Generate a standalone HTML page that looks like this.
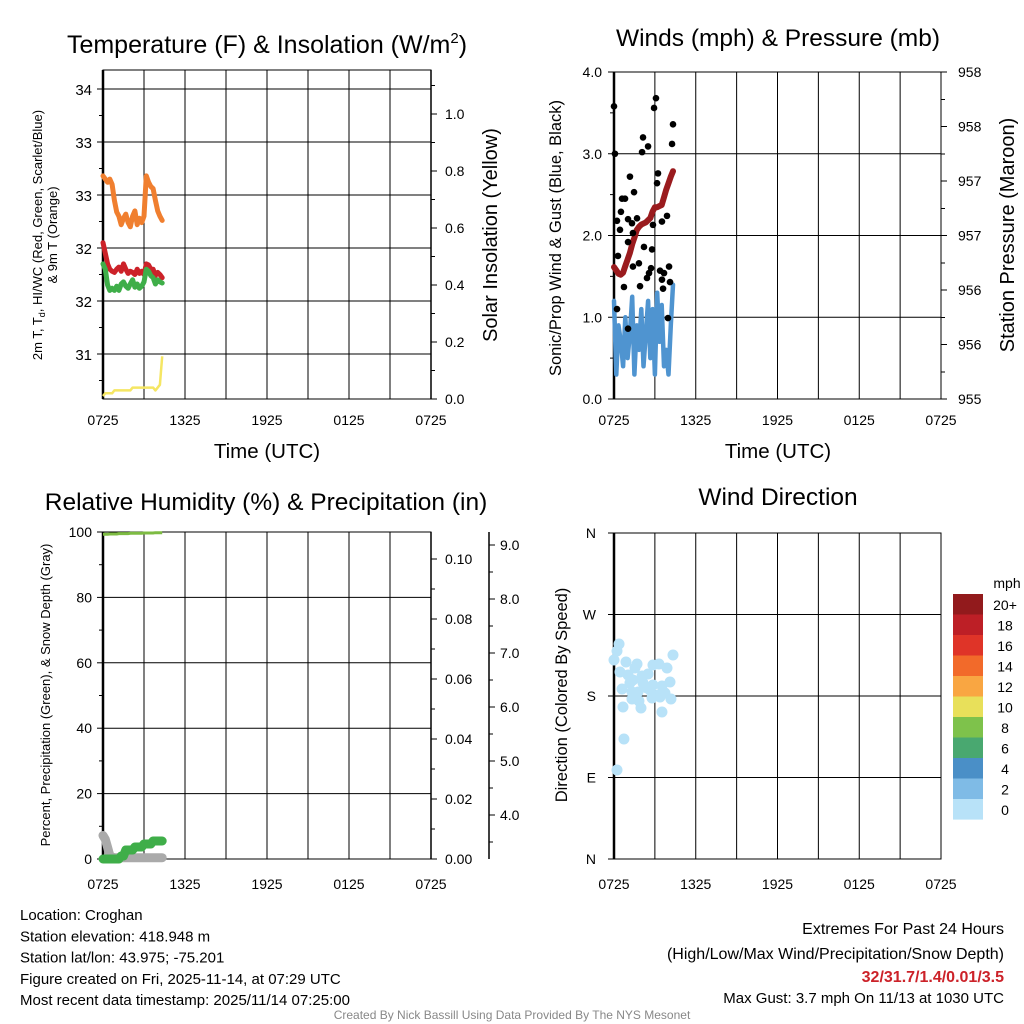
<!DOCTYPE html>
<html><head><meta charset="utf-8"><style>
html,body{margin:0;padding:0;background:#fff;}
svg{display:block;font-family:"Liberation Sans",Arial,sans-serif;}
</style></head><body>
<svg id="c" width="1024" height="1024" viewBox="0 0 1024 1024" xmlns="http://www.w3.org/2000/svg"></svg>
<script>
// ---------- DATA ----------
const timeLabels = ["0725","1325","1925","0125","0725"];
const times = [0,0.167,0.333,0.5,0.667,0.833,1,1.167,1.333,1.5,1.667,1.833,2,2.167,2.333,2.5,2.667,2.833,3,3.167,3.333,3.5,3.667,3.833,4,4.167,4.333];
const orangeT = [33.18,33.15,33.12,33.15,33.1,32.95,32.84,32.80,32.72,32.78,32.82,32.74,32.70,32.80,32.85,32.72,32.78,32.74,32.80,33.18,33.12,33.08,33.06,32.95,32.85,32.80,32.76];
const redT = [32.55,32.45,32.35,32.30,32.28,32.27,32.30,32.32,32.28,32.35,32.30,32.26,32.28,32.27,32.25,32.30,32.26,32.28,32.25,32.35,32.34,32.30,32.30,32.24,32.27,32.25,32.22];
const greenT = [32.35,32.30,32.15,32.10,32.12,32.10,32.14,32.10,32.16,32.18,32.14,32.12,32.16,32.20,32.13,32.16,32.12,32.14,32.18,32.30,32.28,32.24,32.22,32.16,32.20,32.18,32.17];
const insolation = [0.01,0.02,0.02,0.02,0.02,0.03,0.03,0.03,0.03,0.03,0.03,0.03,0.03,0.04,0.04,0.04,0.04,0.04,0.04,0.04,0.04,0.04,0.04,0.03,0.04,0.05,0.15];
const tempTicks = ["34","33","33","32","32","31"];
const insolTicks = ["0.0","0.2","0.4","0.6","0.8","1.0"];
const pressure = [956.21,956.18,956.15,956.14,956.16,956.22,956.28,956.34,956.42,956.48,956.55,956.58,956.60,956.61,956.62,956.64,956.66,956.72,956.76,956.76,956.77,956.78,956.85,956.92,956.98,957.04,957.09];
const windSpeed = [1.2,0.3,0.9,0.7,0.4,1.0,0.5,0.8,1.25,0.3,0.9,0.6,1.1,0.4,0.8,1.2,0.5,1.1,0.3,1.3,0.7,1.15,0.4,0.6,0.3,0.9,1.4];
const gustTimes = [0,0.07,3.08,2.94,4.33,4.26,2.13,2.06,2.5,1.17,1.47,3.23,3.16,0.59,0.81,0.22,0.51,0.44,1.03,1.32,1.69,3.89,3.52,2.86,1.39,1.03,2.2,2.79,0.29,1.83,1.39,2.72,2.57,2.42,3.38,3.67,4.04,3.52,4.11,3.6,1.91,0.73,0.22,1.03,3.96];
const gustVals = [3.58,3.0,3.68,3.56,3.36,3.12,3.2,3.02,3.09,2.72,2.53,2.76,2.64,2.45,2.45,2.18,2.29,2.07,2.2,2.15,2.21,2.24,2.17,2.13,2.03,1.92,1.86,1.83,1.75,1.66,1.62,1.6,1.54,1.48,1.57,1.54,1.62,1.46,1.43,1.35,1.38,1.37,1.1,0.86,0.99];
const windTicks = ["0.0","1.0","2.0","3.0","4.0"];
const pressTicks = ["955","956","956","957","957","958","958"];
const rh = [99.3,99.3,99.3,99.4,99.4,99.4,99.4,99.5,99.5,99.5,99.5,99.5,99.6,99.6,99.6,99.6,99.6,99.6,99.7,99.7,99.7,99.7,99.7,99.8,99.8,99.8,99.8];
const precip = [0,0,0,0,0,0,0,0,0.001,0.001,0.003,0.003,0.003,0.003,0.004,0.004,0.004,0.004,0.005,0.005,0.005,0.005,0.006,0.006,0.006,0.006,0.006];
const snow = [3.62,3.55,3.40,3.25,3.22,3.21,3.21,3.21,3.21,3.21,3.21,3.21,3.21,3.21,3.21,3.21,3.21,3.21,3.21,3.21,3.21,3.21,3.21,3.21,3.21,3.21,3.21];
const rhTicks = ["0","20","40","60","80","100"];
const precipTicks = ["0.00","0.02","0.04","0.06","0.08","0.10"];
const snowTicks = ["4.0","5.0","6.0","7.0","8.0","9.0"];
const dirTimes = [0.37,0.22,0,0.88,4.33,1.69,1.54,2.86,3.3,3.89,0.44,1.03,2.06,2.5,1.39,1.17,2.13,4.11,2.86,3.52,0.59,1.32,1.76,2.42,2.64,3.74,3.23,1.32,1.83,2.79,4.18,3.38,0.66,1.98,3.52,0.73,0.22];
const dirDeg = [237.4,229.7,219.8,217.5,225.3,215.3,210.9,214.2,215.3,210.9,206.5,203.2,202.1,204.3,197.7,194.4,194.4,195.5,192.1,191.0,187.7,184.4,184.4,188.8,186.6,183.3,181.1,176.7,174.5,177.8,176.7,178.9,167.8,166.7,162.3,132.5,98.3];
const dirSpeed = [1,1,1,1,1,1,1,1,1,1,1,1,1,1,1,1,1,1,1,1,1,1,1,1,1,1,1,1,1,1,1,1,1,1,1,1,1];
const dirTicks = ["N","E","S","W","N"];
const speedLabels = ["20+","18","16","14","12","10","8","6","4","2","0"];
const speedColors = ["#921a1c","#bd1f26","#df3428","#f26a2a","#f9a642","#e8e05a","#7ec24b","#49a870","#4a8fc7","#7fbbe6","#b8e2f8"];

// ---------- HELPERS ----------
const svg = document.getElementById('c');
const NS = "http://www.w3.org/2000/svg";
function el(tag, attrs, parent){const e=document.createElementNS(NS,tag);for(const k in attrs)e.setAttribute(k,attrs[k]);(parent||svg).appendChild(e);return e;}
function txt(s,x,y,size,anchor,parent,extra){const t=el('text',Object.assign({x:x,y:y,'font-size':size,'text-anchor':anchor||'middle',fill:'#000'},extra||{}),parent);t.textContent=s;return t;}
function poly(xs,ys,fx,fy){return xs.map((v,i)=>fx(v).toFixed(1)+','+fy(ys[i]).toFixed(1)).join(' ');}

function frame(g,L,R,T,B){
  const step=(R-L)/8;
  for(let i=1;i<8;i++){el('line',{x1:L+i*step,y1:T,x2:L+i*step,y2:B,stroke:'#000','stroke-width':1},g);}
  el('rect',{x:L,y:T,width:R-L,height:B-T,fill:'none',stroke:'#000','stroke-width':1},g);
  el('line',{x1:L,y1:T,x2:L,y2:B,stroke:'#000','stroke-width':2.5},g);
}
function timeAxis(g,L,R,y){
  timeLabels.forEach((s,i)=>{const t=txt(s,L+i*(R-L)/4,y,14,'middle',g);
    
    });
}

// ---------- PANEL 1: Temperature ----------
{
const g=el('g',{});


const L=103,R=431,T=70,B=399;
const fx=t=>L+t*(R-L)/24;
const fy=v=>89+(34-v)*106;
const fi=v=>399-v*285;
frame(g,L,R,T,B);
for(let i=0;i<6;i++){const y=89+i*53;el('line',{x1:L,y1:y,x2:R,y2:y,stroke:'#000','stroke-width':1},g);
  el('line',{x1:L-6,y1:y,x2:L,y2:y,stroke:'#000'},g);el('line',{x1:L-4,y1:y+26.5,x2:L,y2:y+26.5,stroke:'#000'},g);
  const t=txt(tempTicks[i],L-11,y+6,15,'end',g);}
el('line',{x1:R,y1:T,x2:R,y2:B,stroke:'#000','stroke-width':1.5},g);
for(let i=0;i<6;i++){const y=fi(i*0.2);el('line',{x1:R,y1:y,x2:R+6,y2:y,stroke:'#000'},g);el('line',{x1:R,y1:y-28.5,x2:R+4,y2:y-28.5,stroke:'#000'},g);
  const t=txt(insolTicks[i],R+14,y+5,14,'start',g);}
let p=el('polyline',{points:poly(times,insolation,fx,fi),fill:'none',stroke:'#f5e663','stroke-width':2.5,'stroke-linejoin':'round'},g);

p=el('polyline',{points:poly(times,orangeT,fx,fy),fill:'none',stroke:'#f07f2f','stroke-width':5,'stroke-linejoin':'round','stroke-linecap':'round'},g);

p=el('polyline',{points:poly(times,redT,fx,fy),fill:'none',stroke:'#cc2229','stroke-width':5,'stroke-linejoin':'round','stroke-linecap':'round'},g);

p=el('polyline',{points:poly(times,greenT,fx,fy),fill:'none',stroke:'#3fae49','stroke-width':5,'stroke-linejoin':'round','stroke-linecap':'round'},g);

timeAxis(g,L,R,425);
let t=el('text',{x:267,y:53,'font-size':25,'text-anchor':'middle'},g);t.innerHTML='Temperature (F) &amp; Insolation (W/m<tspan dy="-10" font-size="15">2</tspan><tspan dy="10">)</tspan>';

t=txt('Time (UTC)',267,458,20.5,'middle',g);
t=el('text',{transform:'translate(42,235) rotate(-90)','font-size':13,'text-anchor':'middle'},g);t.innerHTML='2m T, T<tspan dy="3" font-size="9">d</tspan><tspan dy="-3">, HI/WC (Red, Green, Scarlet/Blue)</tspan>';

t=txt('& 9m T (Orange)',0,0,13,'middle',g,{transform:'translate(57,235) rotate(-90)'});
t=txt('Solar Insolation (Yellow)',0,0,20,'middle',g,{transform:'translate(497,235) rotate(-90)'});
}

// ---------- PANEL 2: Winds ----------
{
const g=el('g',{});


const L=614,R=941,T=72,B=399;
const fx=t=>L+t*(R-L)/24;
const fy=v=>399-v*81.75;
const fp=v=>399-(v-955)*109;
frame(g,L,R,T,B);
for(let i=0;i<5;i++){const y=fy(i);el('line',{x1:L,y1:y,x2:R,y2:y,stroke:'#000','stroke-width':1},g);
  el('line',{x1:L-6,y1:y,x2:L,y2:y,stroke:'#000'},g);if(i<4)el('line',{x1:L-4,y1:y-40.9,x2:L,y2:y-40.9,stroke:'#000'},g);
  const t=txt(windTicks[i],L-12,y+5,14,'end',g);}
for(let i=0;i<7;i++){const y=fp(955+i*0.5);el('line',{x1:R,y1:y,x2:R+6,y2:y,stroke:'#000'},g);if(i<6)el('line',{x1:R,y1:y-27,x2:R+4,y2:y-27,stroke:'#000'},g);
  const t=txt(pressTicks[i],R+17,y+5,14,'start',g);}
let p=el('polyline',{points:poly(times,windSpeed,fx,fy),fill:'none',stroke:'#4f94d0','stroke-width':4.5,'stroke-linejoin':'round','stroke-linecap':'round'},g);

p=el('polyline',{points:poly(times,pressure,fx,fp),fill:'none',stroke:'#9a1b1e','stroke-width':6,'stroke-linejoin':'round','stroke-linecap':'round'},g);

gustTimes.forEach((tt,i)=>{const c=el('circle',{cx:fx(tt),cy:fy(gustVals[i]),r:3.3,fill:'#000'},g);
  });
timeAxis(g,L,R,425);
let t=txt('Winds (mph) & Pressure (mb)',778,46,24.5,'middle',g);
t=txt('Time (UTC)',778,458,20.5,'middle',g);
t=txt('Sonic/Prop Wind & Gust (Blue, Black)',0,0,16.5,'middle',g,{transform:'translate(561,238) rotate(-90)'});
t=txt('Station Pressure (Maroon)',0,0,20,'middle',g,{transform:'translate(1014,235) rotate(-90)'});
}

// ---------- PANEL 3: RH ----------
{
const g=el('g',{});


const L=103,R=431,T=532,B=859;
const fx=t=>L+t*(R-L)/24;
const fy=v=>859-v*3.27;
const fpr=v=>859-v*3000;
const fs=v=>815-(v-4)*54;
frame(g,L,R,T,B);
for(let i=0;i<6;i++){const y=fy(i*20);el('line',{x1:L,y1:y,x2:R,y2:y,stroke:'#000','stroke-width':1},g);
  el('line',{x1:L-6,y1:y,x2:L,y2:y,stroke:'#000'},g);if(i<5)el('line',{x1:L-4,y1:y-32.7,x2:L,y2:y-32.7,stroke:'#000'},g);
  const t=txt(rhTicks[i],L-11,y+5,14,'end',g);}
el('line',{x1:R,y1:T,x2:R,y2:B,stroke:'#000','stroke-width':1.5},g);
for(let i=0;i<6;i++){const y=fpr(i*0.02);el('line',{x1:R,y1:y,x2:R+6,y2:y,stroke:'#000'},g);if(i<5)el('line',{x1:R,y1:y-30,x2:R+4,y2:y-30,stroke:'#000'},g);
  const t=txt(precipTicks[i],R+14,y+5,14,'start',g);}
el('line',{x1:489,y1:T,x2:489,y2:B,stroke:'#000','stroke-width':1.5},g);
for(let i=0;i<6;i++){const y=fs(4+i);el('line',{x1:489,y1:y,x2:495,y2:y,stroke:'#000'},g);el('line',{x1:489,y1:y+27,x2:493,y2:y+27,stroke:'#000'},g);
  const t=txt(snowTicks[i],500,y+5,14,'start',g);}
let p=el('polyline',{points:poly(times,snow,fx,fs),fill:'none',stroke:'#aaaaaa','stroke-width':9,'stroke-linejoin':'round','stroke-linecap':'round'},g);

p=el('polyline',{points:poly(times,precip,fx,fpr),fill:'none',stroke:'#3fae49','stroke-width':9,'stroke-linejoin':'round','stroke-linecap':'round'},g);

p=el('polyline',{points:poly(times,rh,fx,fy),fill:'none',stroke:'#7dbb42','stroke-width':3,'stroke-linejoin':'round'},g);

timeAxis(g,L,R,889);
let t=txt('Relative Humidity (%) & Precipitation (in)',266,510,24.5,'middle',g);
t=txt('Percent, Precipitation (Green), & Snow Depth (Gray)',0,0,13,'middle',g,{transform:'translate(50,695) rotate(-90)'});
}

// ---------- PANEL 4: Wind direction ----------
{
const g=el('g',{});


const L=614,R=941,T=533,B=859;
const fx=t=>L+t*(R-L)/24;
const fy=v=>859-v*(326/360);
frame(g,L,R,T,B);
for(let i=0;i<5;i++){const y=fy(i*90);el('line',{x1:L,y1:y,x2:R,y2:y,stroke:'#000','stroke-width':1},g);
  el('line',{x1:L-6,y1:y,x2:L,y2:y,stroke:'#000'},g);
  const t=txt(dirTicks[i],L-18,y+5,14,'end',g);}
dirTimes.forEach((tt,i)=>{const bin=Math.min(10,Math.floor(dirSpeed[i]/2));
  const c=el('circle',{cx:fx(tt),cy:fy(dirDeg[i]),r:5.5,fill:speedColors[10-bin]},g);
  });
timeAxis(g,L,R,889);
let t=txt('Wind Direction',778,505,24.5,'middle',g);
t=txt('Direction (Colored By Speed)',0,0,16.5,'middle',g,{transform:'translate(567,695) rotate(-90)'});
const cb=el('g',{},g);
speedColors.forEach((c,i)=>{const y=594+i*20.5;el('rect',{x:953,y:y,width:30,height:20.6,fill:c},cb);
  const l=txt(speedLabels[i],1005,y+16,14,'middle',cb);});
t=txt('mph',1007,588,14,'middle',cb);
}

// ---------- FOOTER ----------
{
const g=el('g',{});


const lines=["Location: Croghan","Station elevation: 418.948 m","Station lat/lon: 43.975; -75.201","Figure created on Fri, 2025-11-14, at 07:29 UTC","Most recent data timestamp: 2025/11/14 07:25:00"];
lines.forEach((s,i)=>{const t=txt(s,20,920+i*21.3,15,'start',g);});
const g2=el('g',{});


let t=txt('Extremes For Past 24 Hours',1004,934,16,'end',g2);
t=txt('(High/Low/Max Wind/Precipitation/Snow Depth)',1004,959,16,'end',g2);
t=txt('32/31.7/1.4/0.01/3.5',1004,982,16,'end',g2,{fill:'#cc2229','font-weight':'bold'});
t=txt('Max Gust: 3.7 mph On 11/13 at 1030 UTC',1004,1003,15,'end',g2);
t=txt('Created By Nick Bassill Using Data Provided By The NYS Mesonet',512,1019,12,'middle',svg,{fill:'#888'});
}
</script>
</body></html>
